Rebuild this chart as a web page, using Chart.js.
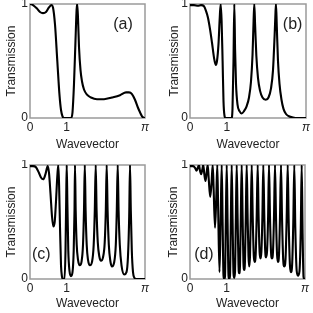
<!DOCTYPE html>
<html><head><meta charset="utf-8">
<script src="https://cdn.jsdelivr.net/npm/chart.js@4/dist/chart.umd.min.js"></script>
<style>
html,body{margin:0;padding:0;background:#fff;}
#wrap{position:relative;width:313px;height:313px;overflow:hidden;background:#fff;}
canvas{position:absolute;}
</style></head><body>
<div id="wrap">
<canvas id="ca" width="156" height="156" style="left:0;top:0"></canvas>
<canvas id="cb" width="153" height="156" style="left:160px;top:0"></canvas>
<canvas id="cc" width="156" height="153" style="left:0;top:160px"></canvas>
<canvas id="cd" width="153" height="153" style="left:160px;top:160px"></canvas>
</div>
<script>
// ---- data (wavevector k, transmission T) ----
const xTickValues = [0, 1, Math.PI];
const xTickLabels = ['0', '1', 'π'];
const yTickValues = [0, 1];
const yTickLabels = ['0', '1'];
const xTitle = 'Wavevector';
const yTitle = 'Transmission';
const panelLabels = ['(a)', '(b)', '(c)', '(d)'];

const kA = [0,0.082,0.191,0.273,0.355,0.437,0.519,0.587,0.628,0.683,0.746,0.806,0.847,0.888,0.929,1.120,1.161,1.202,1.243,1.273,1.289,1.311,1.339,1.380,1.421,1.475,1.557,1.666,1.830,2.022,2.240,2.459,2.623,2.704,2.786,2.868,2.950,3.005,3.060,3.101,3.1416];
const tA = [1.0,0.99,0.96,0.93,0.92,0.93,0.97,0.99,0.97,0.82,0.5,0.2,0.07,0.015,0,0,0.05,0.3,0.68,0.95,1.0,0.88,0.62,0.42,0.32,0.25,0.205,0.18,0.165,0.165,0.18,0.2,0.225,0.225,0.21,0.16,0.09,0.05,0.015,0.003,0];

const kB = [0,0.108,0.217,0.298,0.379,0.433,0.487,0.542,0.596,0.650,0.696,0.731,0.772,0.804,0.831,0.856,0.883,0.907,0.934,0.961,1.124,1.151,1.178,1.200,1.221,1.246,1.286,1.341,1.400,1.462,1.530,1.598,1.652,1.693,1.722,1.741,1.763,1.796,1.842,1.896,1.963,2.050,2.126,2.194,2.248,2.291,2.316,2.329,2.351,2.383,2.424,2.478,2.532,2.600,2.681,2.790,2.898,3.1416];
const tB = [0.99,0.99,0.985,0.99,0.98,0.94,0.88,0.78,0.66,0.53,0.465,0.5,0.65,0.87,1.0,0.85,0.5,0.15,0.02,0,0,0.08,0.5,1.0,0.6,0.3,0.12,0.06,0.04,0.06,0.1,0.18,0.32,0.55,0.85,1.0,0.82,0.55,0.35,0.24,0.18,0.16,0.18,0.26,0.42,0.72,0.93,1.0,0.8,0.5,0.3,0.16,0.08,0.035,0.015,0.005,0,0];

const kC = [0,0.082,0.164,0.246,0.300,0.363,0.423,0.484,0.519,0.560,0.601,0.637,0.675,0.710,0.746,0.773,0.795,0.820,0.847,0.874,0.901,0.942,0.970,0.989,1.003,1.022,1.046,1.079,1.120,1.161,1.194,1.216,1.229,1.248,1.276,1.311,1.360,1.407,1.448,1.475,1.497,1.519,1.549,1.584,1.639,1.694,1.740,1.770,1.795,1.819,1.852,1.893,1.940,1.994,2.041,2.071,2.095,2.120,2.153,2.194,2.240,2.295,2.344,2.371,2.396,2.420,2.453,2.500,2.576,2.636,2.677,2.710,2.732,2.754,2.781,2.814,2.855,2.896,3.1416];
const tC = [0.99,0.99,0.98,0.93,0.89,0.875,0.92,0.99,0.93,0.75,0.55,0.46,0.5,0.68,0.9,1.0,0.82,0.45,0.12,0.02,0,0,0.25,0.7,1.0,0.65,0.25,0.07,0.025,0.06,0.25,0.6,1.0,0.6,0.3,0.17,0.12,0.15,0.3,0.6,1.0,0.6,0.3,0.17,0.12,0.15,0.3,0.6,1.0,0.6,0.32,0.2,0.16,0.19,0.32,0.6,1.0,0.6,0.3,0.16,0.11,0.14,0.3,0.6,1.0,0.6,0.3,0.12,0.04,0.06,0.2,0.55,1.0,0.6,0.25,0.06,0.01,0,0];

const kD = [0,0.082,0.137,0.178,0.219,0.246,0.273,0.306,0.336,0.363,0.391,0.423,0.453,0.484,0.511,0.552,0.590,0.620,0.645,0.683,0.718,0.746,0.770,0.806,0.839,0.866,0.891,0.915,0.934,0.956,0.978,1.003,1.027,1.052,1.071,1.093,1.115,1.139,1.164,1.188,1.207,1.229,1.251,1.276,1.300,1.325,1.344,1.366,1.388,1.412,1.437,1.459,1.481,1.502,1.524,1.549,1.574,1.598,1.617,1.639,1.661,1.686,1.713,1.743,1.767,1.795,1.822,1.849,1.874,1.901,1.926,1.950,1.978,2.002,2.030,2.054,2.079,2.106,2.134,2.158,2.185,2.213,2.240,2.267,2.295,2.322,2.349,2.377,2.404,2.431,2.459,2.486,2.513,2.546,2.576,2.609,2.642,2.669,2.696,2.732,2.759,2.789,2.822,2.849,2.877,2.915,2.950,2.991,3.027,3.051,3.076,3.101,3.120,3.1416];
const tD = [0.99,0.99,0.975,0.95,0.98,1.0,0.95,0.92,0.96,1.0,0.92,0.86,0.93,1.0,0.88,0.72,0.85,1.0,0.8,0.45,0.72,1.0,0.6,0.06,0.55,1.0,0.5,0.03,0,0.02,0.5,1.0,0.5,0.03,0,0.03,0.5,1.0,0.5,0.05,0.01,0.06,0.5,1.0,0.55,0.12,0.05,0.12,0.55,1.0,0.55,0.15,0.08,0.16,0.55,1.0,0.55,0.2,0.11,0.2,0.55,1.0,0.55,0.2,0.15,0.22,0.55,1.0,0.55,0.24,0.18,0.24,0.55,1.0,0.55,0.25,0.19,0.25,0.55,1.0,0.55,0.24,0.18,0.24,0.55,1.0,0.55,0.22,0.15,0.21,0.55,1.0,0.55,0.17,0.11,0.17,0.55,1.0,0.5,0.11,0.06,0.12,0.5,1.0,0.45,0.07,0.03,0.07,0.45,1.0,0.4,0.02,0,0];

// ---- layout / style per panel ----
const panels = [
  {id:'ca', k:kA, t:tA, label:panelLabels[0], lk:2.54, lt:0.82, padT:4, padR:11, yW:30, xH:38, yTP:4, xTP:4},
  {id:'cb', k:kB, t:tB, label:panelLabels[1], lk:2.78, lt:0.815, padT:4, padR:7, yW:30, xH:38, yTP:7.5, xTP:4},
  {id:'cc', k:kC, t:tC, label:panelLabels[2], lk:0.31, lt:0.21, padT:5, padR:11, yW:30, xH:34, yTP:4.5, xTP:2.5},
  {id:'cd', k:kD, t:tD, label:panelLabels[3], lk:0.38, lt:0.21, padT:5, padR:8, yW:30, xH:34, yTP:6, xTP:2.5}
];

const FONT = "'Liberation Sans', Arial, sans-serif";
const TXT = '#222';

const framePlugin = {
  id: 'frame',
  beforeDatasetsDraw(chart) {
    const a = chart.chartArea, c = chart.ctx;
    c.save();
    c.strokeStyle = '#9a9a9a';
    c.lineWidth = 1.5;
    c.strokeRect(a.left, a.top, a.right - a.left, a.bottom - a.top);
    c.restore();
  }
};
const labelPlugin = {
  id: 'plabel',
  afterDraw(chart, args, opts) {
    const c = chart.ctx;
    const x = chart.scales.x.getPixelForValue(opts.k);
    const y = chart.scales.y.getPixelForValue(opts.t);
    c.save();
    c.font = '16px ' + FONT;
    c.fillStyle = TXT;
    c.textAlign = 'center';
    c.textBaseline = 'middle';
    c.fillText(opts.text, x, y);
    c.restore();
  }
};

panels.forEach(p => {
  const pts = p.k.map((k, i) => ({x: k, y: p.t[i]}));
  new Chart(document.getElementById(p.id), {
    type: 'line',
    data: { datasets: [{ data: pts, borderColor: '#000', borderWidth: 2.1, pointRadius: 0, fill: false, cubicInterpolationMode: 'monotone' }] },
    plugins: [framePlugin, labelPlugin],
    options: {
      responsive: false,
      animation: false,
      events: [],
      layout: { padding: { left: 0, right: p.padR, top: p.padT, bottom: 0 } },
      plugins: { legend: {display:false}, tooltip: {enabled:false}, plabel: {k: p.lk, t: p.lt, text: p.label} },
      scales: {
        x: {
          type: 'linear', min: 0, max: Math.PI,
          grid: { display: false, drawTicks: false },
          border: { display: false },
          afterBuildTicks: s => { s.ticks = xTickValues.map(v => ({value: v})); },
          afterFit: s => { s.height = p.xH; s.paddingLeft = 0; s.paddingRight = 0; },
          ticks: {
            padding: 2, color: TXT, maxRotation: 0, autoSkip: false,
            font: ctx => ({ family: FONT, size: 12, style: (ctx.tick && ctx.tick.value > 3) ? 'italic' : 'normal' }),
            callback: (v) => xTickLabels[xTickValues.indexOf(v)]
          },
          title: { display: true, text: xTitle, color: TXT, font: {family: FONT, size: 12}, padding: {top: 0, bottom: p.xTP} }
        },
        y: {
          type: 'linear', min: 0, max: 1,
          grid: { display: false, drawTicks: false },
          border: { display: false },
          afterBuildTicks: s => { s.ticks = yTickValues.map(v => ({value: v})); },
          afterFit: s => { s.width = p.yW; s.paddingTop = 0; s.paddingBottom = 0; },
          ticks: {
            padding: 2, color: TXT, autoSkip: false,
            font: {family: FONT, size: 12},
            callback: (v) => yTickLabels[yTickValues.indexOf(v)]
          },
          title: { display: true, text: yTitle, color: TXT, font: {family: FONT, size: 12}, padding: {top: p.yTP, bottom: 0} }
        }
      }
    }
  });
});
</script>
</body></html>
